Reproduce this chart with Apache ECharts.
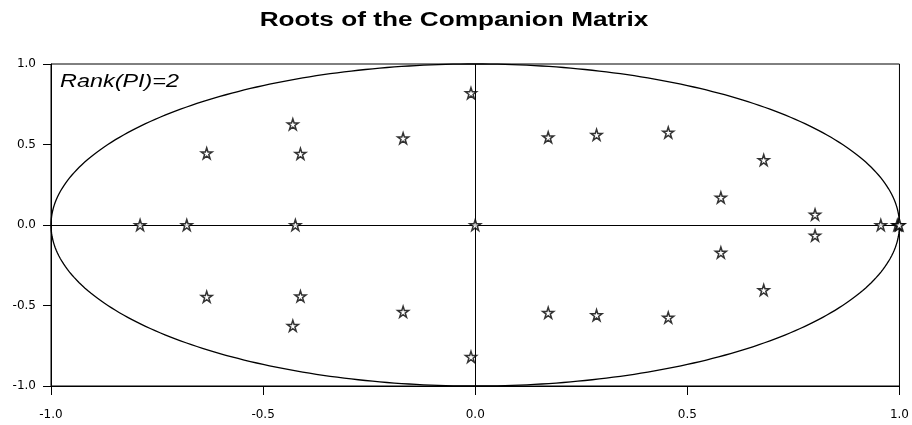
<!DOCTYPE html>
<html>
<head>
<meta charset="utf-8">
<script src="https://cdn.jsdelivr.net/npm/echarts@6/dist/echarts.min.js"></script>
<style>html,body{margin:0;padding:0;background:#fff}#c{width:912px;height:425px}</style>
</head>
<body>
<div id="c"></div>
<script>
var chartTitle = 'Roots of the Companion Matrix';
var annotation = 'Rank(PI)=2';
var axisTicks = [-1.0, -0.5, 0.0, 0.5, 1.0];
// roots: real part, imaginary part
var rootsRe = [-0.79, -0.68, -0.424, 0.0, 0.956, 0.995, 0.998, 1.0,
  -0.633, -0.633, -0.430, -0.430, -0.412, -0.412, -0.170, -0.170, -0.010, -0.010,
  0.172, 0.172, 0.286, 0.286, 0.455, 0.455, 0.680, 0.680, 0.579, 0.579, 0.801, 0.801];
var rootsIm = [0, 0, 0, 0, 0, 0, 0, 0,
  0.446, -0.446, 0.626, -0.626, 0.443, -0.443, 0.539, -0.539, 0.819, -0.819,
  0.545, -0.545, 0.560, -0.560, 0.575, -0.575, 0.404, -0.404, 0.171, -0.171, 0.065, -0.065];
// unit circle: center x, center y, radius
var unitCircle = [0, 0, 1];

var pts = rootsRe.map(function (x, i) { return [x, rootsIm[i]]; });
var star = 'path://M0,-10L2.245,-3.09L9.51,-3.09L3.633,1.18L5.878,8.09L0,3.82L-5.878,8.09L-3.633,1.18L-9.51,-3.09L-2.245,-3.09Z';
var fontFam = '"Liberation Sans", Arial, sans-serif';
var tickFont = '"DejaVu Sans", sans-serif';

var chart = echarts.init(document.getElementById('c'), null, {renderer: 'canvas'});
var axisCommon = {
  type: 'value', min: axisTicks[0], max: axisTicks[axisTicks.length - 1], interval: 0.5,
  splitLine: {show: false},
  axisLine: {show: true, onZero: false, lineStyle: {color: '#000', width: 1}},
  axisTick: {show: true, lineStyle: {color: '#000', width: 1}},
  axisLabel: {color: '#000', fontSize: 12, fontFamily: tickFont, formatter: function (v) { return v.toFixed(1); }}
};
chart.setOption({
  animation: false,
  backgroundColor: '#fff',
  grid: {left: 51, right: 10, top: 64, bottom: 39, show: true, borderColor: '#000', borderWidth: 1, backgroundColor: 'transparent'},
  xAxis: Object.assign({}, axisCommon, {
    axisTick: {show: true, length: 9, lineStyle: {color: '#000', width: 1}},
    axisLabel: Object.assign({}, axisCommon.axisLabel, {margin: 23})
  }),
  yAxis: Object.assign({}, axisCommon, {
    axisTick: {show: true, length: 8, lineStyle: {color: '#000', width: 1}},
    axisLabel: Object.assign({}, axisCommon.axisLabel, {margin: 15})
  }),
  graphic: [
    {type: 'text', x: 454, y: 20, scaleX: 1.31, originX: 0, style: {text: chartTitle, font: 'bold 20px ' + fontFam, fill: '#000', textAlign: 'center', textVerticalAlign: 'middle'}},
    {type: 'text', x: 60, y: 82, scaleX: 1.3, style: {text: annotation, font: 'italic 18px ' + fontFam, fill: '#000', textAlign: 'left', textVerticalAlign: 'middle'}}
  ],
  series: [
    {
      type: 'custom', silent: true, z: 2,
      data: [unitCircle],
      renderItem: function (params, api) {
        var cx = api.value(0), cy = api.value(1), r = api.value(2);
        var points = [];
        for (var k = 0; k <= 360; k++) {
          var t = k * Math.PI / 180;
          points.push(api.coord([cx + r * Math.cos(t), cy + r * Math.sin(t)]));
        }
        return {type: 'polyline', shape: {points: points}, style: {stroke: '#000', lineWidth: 1.3, fill: null}};
      },
      markLine: {
        silent: true, symbol: 'none', label: {show: false},
        lineStyle: {color: '#000', width: 1, type: 'solid'},
        data: [{xAxis: 0}, {yAxis: 0}]
      }
    },
    {
      type: 'scatter', z: 5,
      symbol: star, symbolSize: 11,
      itemStyle: {color: '#fff', borderColor: '#000', borderWidth: 1.5},
      data: pts
    }
  ]
});
</script>
</body>
</html>
